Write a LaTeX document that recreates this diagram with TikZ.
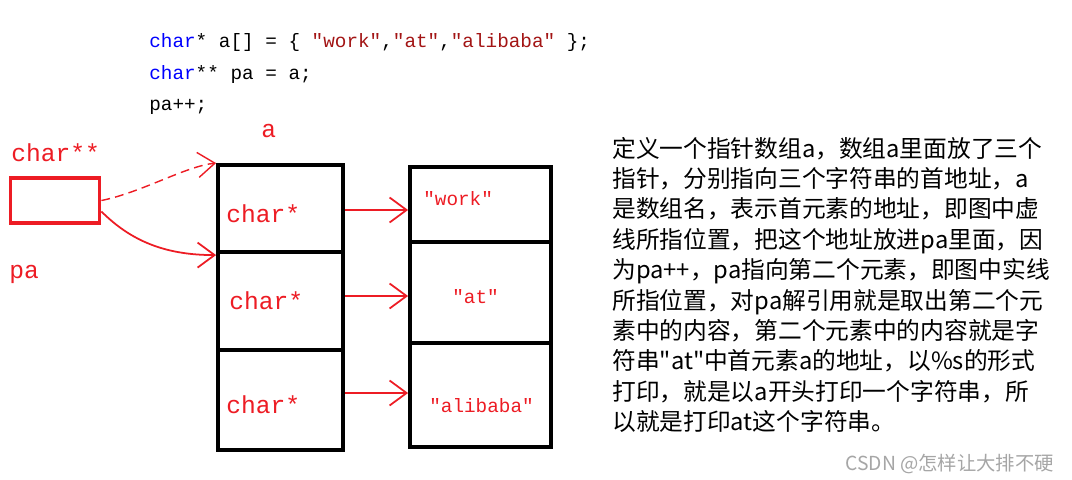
\documentclass[tikz,border=0pt]{standalone}
\usepackage{fontspec}
\usepackage{tikz}
\usetikzlibrary{arrows.meta}
\newfontfamily\cjk{Noto Sans CJK SC}
\newfontfamily\codefont{Liberation Mono}
\definecolor{paintred}{RGB}{237,28,36}
\definecolor{kwblue}{RGB}{0,0,255}
\definecolor{strred}{RGB}{163,21,21}

\begin{document}
\begin{tikzpicture}[x=0.02cm, y=-0.02cm, every node/.style={inner sep=0pt},
	code/.style={font=\codefont\fontsize{11pt}{13pt}\selectfont, anchor=base west},
	redlbl/.style={font=\codefont\fontsize{14pt}{16pt}\selectfont, text=paintred, anchor=base west},
	strlbl/.style={font=\codefont\fontsize{11pt}{13pt}\selectfont, text=paintred, anchor=base west},
	note/.style={font=\cjk\fontsize{13.5pt}{17pt}\selectfont, anchor=base west},
	cell/.style={draw=black, line width=2.2pt, minimum width=#1},
	ptr/.style={draw=paintred, line width=1pt, -{Straight Barb[length=3.4mm, width=5mm]}}]
	\path[fill=white] (0,0) rectangle (1072,480);
	\node[code] (l1) at (149,48) {\textcolor{kwblue}{char}* a[] = \{ \textcolor{strred}{"work"},\textcolor{strred}{"at"},\textcolor{strred}{"alibaba"} \};};
	\node[code] (l2) at (149,79) {\textcolor{kwblue}{char}** pa = a;};
	\node[code] (l3) at (149,110) {pa++;};
	\node[redlbl] (albl) at (261,137) {a};
	\node[redlbl] (pptype) at (11,161) {char**};
	\node[draw=paintred, line width=2.2pt, minimum width=1.78cm, minimum height=0.9cm] (pabox) at (55,200.5) {};
	\node[redlbl] (palbl) at (9,278) {pa};
	\foreach \n/\y/\h in {a1/208.5/1.74cm, a2/301/1.96cm, a3/400/2cm}
		\node[cell=2.5cm, minimum height=\h] (\n) at (280.5,\y) {};
	\foreach \n/\y/\h in {s1/204.5/1.5cm, s2/292.5/2.02cm, s3/395/2.08cm}
		\node[cell=2.82cm, minimum height=\h] (\n) at (480.5,\y) {};
	\foreach \x/\y [count=\i] in {226/222, 229/309, 226/413}
		\node[redlbl] (ctype\i) at (\x,\y) {char*};
	\node[strlbl] (str1) at (423,205) {"work"};
	\node[strlbl] (str2) at (452,303) {"at"};
	\node[strlbl] (str3) at (429,412) {"alibaba"};
	\foreach \i/\dy in {1/-0.03cm, 2/0.1cm, 3/0.14cm}
		\draw[ptr] ([yshift=\dy]a\i.east) -- ([yshift=\dy]a\i.east -| s\i.west);
	\draw[ptr, line width=0.8pt, dash pattern=on 5pt off 3pt] (pabox.east) .. controls +(40,-8) and +(-30,3) .. (a1.north west);
	\draw[ptr] ([yshift=-2.2mm]pabox.east) .. controls +(30,30) and +(-50,0) .. ([yshift=-1mm]a2.north west);
	\foreach \t [count=\i from 0] in {
		{定义一个指针数组a，数组a里面放了三个},
		{指针，分别指向三个字符串的首地址，a},
		{是数组名，表示首元素的地址，即图中虚},
		{线所指位置，把这个地址放进pa里面，因},
		{为pa++，pa指向第二个元素，即图中实线},
		{所指位置，对pa解引用就是取出第二个元},
		{素中的内容，第二个元素中的内容就是字},
		{符串"at"中首元素a的地址，以\%s的形式},
		{打印，就是以a开头打印一个字符串，所},
		{以就是打印at这个字符串。}}
		\node[note] (txt\i) at (612,157+30.4*\i) {\t};
	\node[font=\cjk\fontsize{11pt}{13pt}\selectfont, text=gray!70, anchor=base west] (mark) at (845,470) {CSDN @怎样让大排不硬};
\end{tikzpicture}
\end{document}
